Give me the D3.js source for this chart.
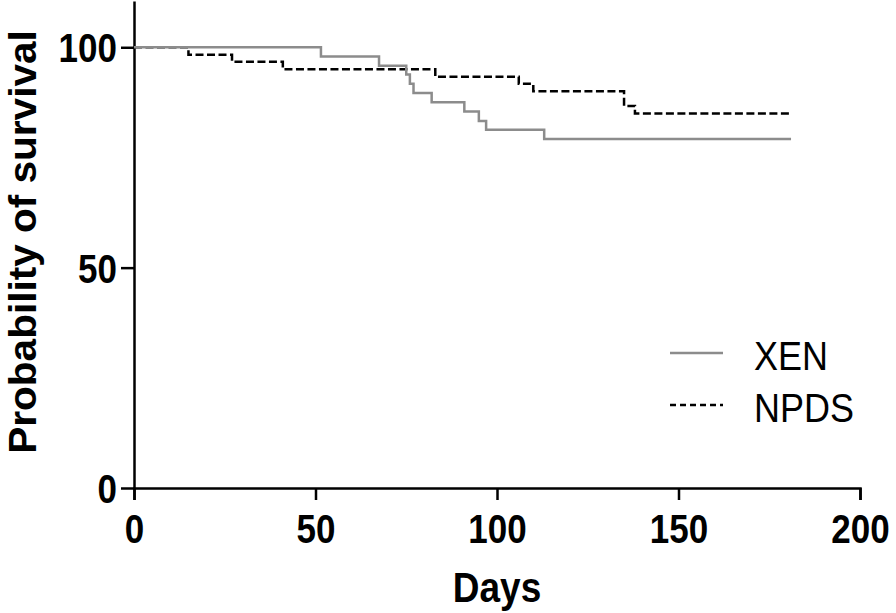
<!DOCTYPE html>
<html>
<head>
<meta charset="utf-8">
<script src="https://d3js.org/d3.v7.min.js"></script>
<style>
  body { margin: 0; background: #fff; }
  text { font-family: "Liberation Sans", Arial, sans-serif; }
</style>
</head>
<body>
<div id="km"></div>
<script>
// Kaplan-Meier survival, XEN vs NPDS
var xenDays  = [0, 51.5, 67.5, 75, 76, 77, 82, 91, 95, 97, 113, 181]
var xenSurv  = [100, 97.9, 95.8, 93.8, 91.7, 89.6, 87.5, 85.4, 83.3, 81.3, 79.2, 79.2]

var npdsDays = [0, 15, 27, 41, 83, 106, 110, 135, 138, 181]
var npdsSurv = [100, 98.3, 96.7, 95.0, 93.3, 91.7, 90.0, 86.7, 85.0, 85.0]

var xTicks = [0, 50, 100, 150, 200]
var yTicks = [0, 50, 100]
var seriesNames = ["XEN", "NPDS"]

var width = 896, height = 613
var stretch = 1.15 // text in the original is a bit taller than wide

var svg = d3.select("#km").append("svg")
  .attr("width", width)
  .attr("height", height)

var x = d3.scaleLinear().domain([0, 200]).range([134, 860])
var y = d3.scaleLinear().domain([0, 110.5]).range([488, 1])

// axes
var xAxis = svg.append("g")
  .attr("transform", "translate(0," + y(0) + ")")
  .call(d3.axisBottom(x).tickValues(xTicks).tickSize(12).tickSizeOuter(12).tickPadding(0))

var yAxis = svg.append("g")
  .attr("transform", "translate(" + x(0) + ",0)")
  .call(d3.axisLeft(y).tickValues(yTicks).tickSize(13).tickSizeOuter(0).tickPadding(4))

svg.selectAll(".domain, .tick line")
  .style("stroke", "black")
  .style("stroke-width", 2.5)

xAxis.selectAll(".tick text")
  .attr("y", null).attr("dy", null)
  .attr("transform", "translate(0,55) scale(1," + stretch + ")")
  .style("font-size", "35px")
  .style("font-weight", "bold")
  .style("fill", "black")

yAxis.selectAll(".tick text")
  .attr("x", null).attr("dy", null)
  .attr("transform", "translate(-17,14.5) scale(1," + stretch + ")")
  .style("font-size", "35px")
  .style("font-weight", "bold")
  .style("fill", "black")

// axis titles
svg.append("text")
  .attr("transform", "translate(" + x(100) + ",602) scale(1," + stretch + ")")
  .attr("text-anchor", "middle")
  .style("font-size", "37px")
  .style("font-weight", "bold")
  .text("Days")

svg.append("text")
  .attr("transform", "translate(36,242) rotate(-90) scale(1.04,1)")
  .attr("text-anchor", "middle")
  .style("font-size", "39px")
  .style("font-weight", "bold")
  .text("Probability of survival")

// survival curves
var line = d3.line()
  .x(function(d) { return x(d[0]) })
  .y(function(d) { return y(d[1]) })
  .curve(d3.curveStepAfter)

svg.append("path")
  .datum(d3.zip(npdsDays, npdsSurv))
  .attr("d", line)
  .style("fill", "none")
  .style("stroke", "black")
  .style("stroke-width", 2.5)
  .style("stroke-dasharray", "8,3.5")

svg.append("path")
  .datum(d3.zip(xenDays, xenSurv))
  .attr("d", line)
  .style("fill", "none")
  .style("stroke", "#8c8c8c")
  .style("stroke-width", 2.5)

// legend
var legend = svg.append("g")

legend.selectAll("mylines")
  .data(seriesNames)
  .enter()
  .append("line")
    .attr("x1", 670)
    .attr("x2", 723)
    .attr("y1", function(d, i) { return 353 + i * 52 })
    .attr("y2", function(d, i) { return 353 + i * 52 })
    .style("stroke", function(d, i) { return i == 0 ? "#8c8c8c" : "black" })
    .style("stroke-width", 2.5)
    .style("stroke-dasharray", function(d, i) { return i == 0 ? null : "6,4" })

legend.selectAll("mylabels")
  .data(seriesNames)
  .enter()
  .append("text")
    .attr("transform", function(d, i) { return "translate(754," + (370 + i * 52) + ") scale(1," + stretch + ")" })
    .style("font-size", "36px")
    .style("fill", "black")
    .text(function(d) { return d })
</script>
</body>
</html>
